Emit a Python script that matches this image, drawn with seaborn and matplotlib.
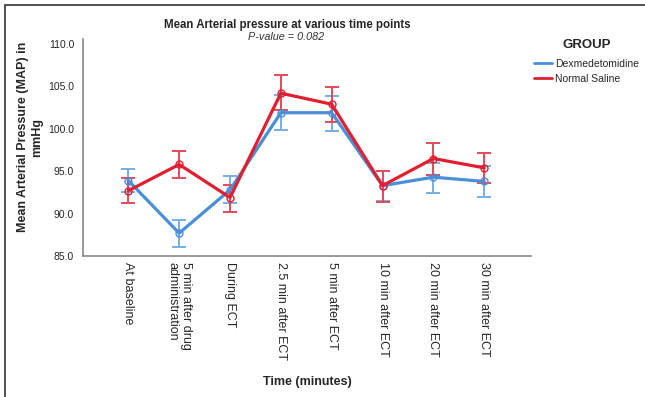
import pandas as pd
import numpy as np
import matplotlib
matplotlib.use('Agg')
import matplotlib.pyplot as plt
import seaborn as sns
from matplotlib.patches import Rectangle

time_points = ['At baseline', '5 min after drug\nadministration', 'During ECT',
               '2.5 min after ECT', '5 min after ECT', '10 min after ECT',
               '20 min after ECT', '30 min after ECT']
groups = ['Dexmedetomidine', 'Normal Saline']

dex_mean = [93.9, 87.7, 92.8, 101.9, 101.9, 93.3, 94.3, 93.8]
dex_low = [92.5, 86.1, 91.2, 99.9, 99.8, 91.5, 92.4, 92.0]
dex_high = [95.3, 89.3, 94.4, 104.0, 103.9, 95.0, 96.0, 95.6]

ns_mean = [92.7, 95.8, 91.9, 104.2, 102.9, 93.3, 96.5, 95.4]
ns_low = [91.3, 94.2, 90.2, 102.2, 100.8, 91.4, 94.6, 93.6]
ns_high = [94.2, 97.4, 93.4, 106.3, 104.9, 95.0, 98.3, 97.1]

line_colors = ['#4a8fd8', '#e01f30']
bar_colors = ['#78aee6', '#e44a5b']

df = pd.DataFrame({
    'x': list(range(len(time_points))) * 2,
    'MAP': dex_mean + ns_mean,
    'GROUP': [groups[0]] * len(time_points) + [groups[1]] * len(time_points),
})

sns.set_style('white')
plt.rcParams['font.family'] = ['Liberation Sans', 'DejaVu Sans']

fig = plt.figure(figsize=(6.45, 3.97), dpi=100)
ax = fig.add_axes([0.128, 0.355, 0.696, 0.547])

sns.lineplot(data=df, x='x', y='MAP', hue='GROUP', palette=line_colors,
             linewidth=2.3, marker='o', markersize=5, ax=ax, zorder=3)
for ln, c in zip(list(ax.lines), line_colors):
    ln.set_markerfacecolor('none')
    ln.set_markeredgecolor(c)
    ln.set_markeredgewidth(1.0)

# confidence intervals drawn underneath the lines
for i, (m, lo, hi) in enumerate([(dex_mean, dex_low, dex_high), (ns_mean, ns_low, ns_high)]):
    m = np.array(m)
    ax.errorbar(range(len(time_points)), m,
                yerr=[m - np.array(lo), np.array(hi) - m],
                fmt='none', ecolor=bar_colors[i], elinewidth=1.4, capsize=5, capthick=1.4, zorder=2)

ax.set_xlim(-0.9, 7.93)
ax.set_ylim(85, 110.6)
ax.set_yticks([85, 90, 95, 100, 105, 110])
ax.set_yticklabels(['%.1f' % v for v in [85, 90, 95, 100, 105, 110]], fontsize=7.5)
ax.set_xticks(range(len(time_points)))
ax.set_xticklabels(time_points, rotation=270, fontsize=9, va='top', ha='center',
                   multialignment='left')
ax.tick_params(length=0, pad=4)
ax.tick_params(axis='y', pad=6)
for s in ['top', 'right']:
    ax.spines[s].set_visible(False)
for s in ['left', 'bottom']:
    ax.spines[s].set_color('#888888')
    ax.spines[s].set_linewidth(1.2)

ax.set_xlabel('Time (minutes)', fontsize=9, fontweight='bold', labelpad=12)
ax.set_ylabel('Mean Arterial Pressure (MAP) in\nmmHg', fontsize=9, fontweight='bold')
ax.yaxis.set_label_coords(-0.088, 0.548)

fig.text(0.445, 0.937, 'Mean Arterial pressure at various time points', ha='center',
         va='center', fontsize=8.3, fontweight='bold')
fig.text(0.443, 0.906, 'P-value = 0.082', ha='center', va='center', fontsize=7.8,
         style='italic', color='#333333')

leg = ax.legend(title='GROUP', loc='upper left', bbox_to_anchor=(0.99, 1.035), frameon=False,
                handlelength=1.7, handletextpad=0.3, borderaxespad=0.3, labelspacing=0.45,
                prop={'size': 7.5},
                title_fontproperties={'size': 9.5, 'weight': 'bold'})
leg._legend_box.align = 'center'
leg._legend_box.sep = 6
for h in leg.legend_handles:
    h.set_marker('')
    h.set_linewidth(2)

fig.patches.append(Rectangle((5 / 645, -0.1), 1.1, 1 - 5 / 397 + 0.1, transform=fig.transFigure,
                             fill=False, edgecolor='#333333', linewidth=1.2))

fig.savefig('out.png', dpi=100)
